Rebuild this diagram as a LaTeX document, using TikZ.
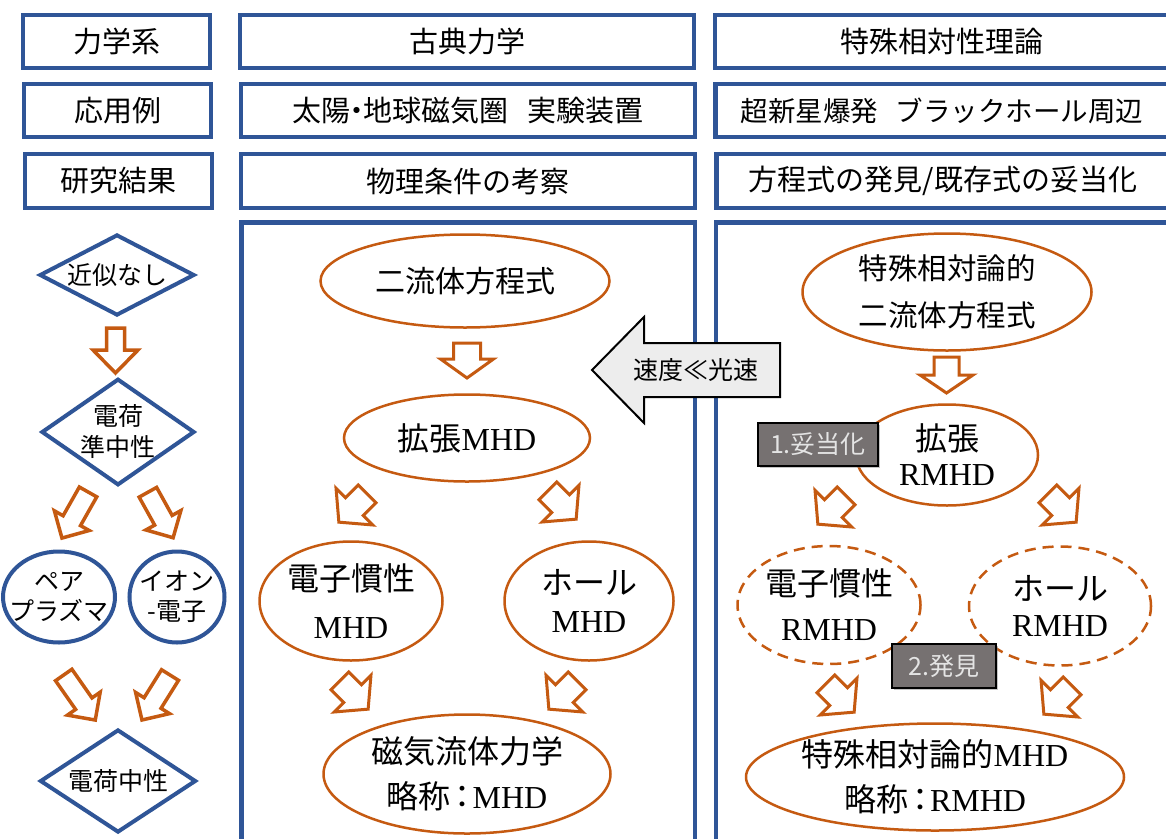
\documentclass[tikz,border=0pt]{standalone}
\usepackage{fontspec}
\setmainfont{Liberation Serif}
\newfontfamily\jp{Noto Sans CJK JP}
\usetikzlibrary{shapes.geometric,shadows}
\definecolor{cblue}{HTML}{2F5597}
\definecolor{corange}{HTML}{C55A11}
\definecolor{cgray}{HTML}{767171}
\definecolor{clabel}{HTML}{E4E4E4}
\definecolor{carrow}{HTML}{EDEDED}
\newcommand\jt[1]{{\jp #1}}
% [style]{x}{y}{rotation}{length}{shaft width}{head width}{head length}
\newcommand\blkarrow[8][blk]{\draw[#1,shift={(#2,#3)},rotate=#4]
  ({-(#5)/2},{-(#6)/2}) -- ({(#5)/2-(#8)},{-(#6)/2}) -- ({(#5)/2-(#8)},{-(#7)/2})
  -- ({(#5)/2},0) -- ({(#5)/2-(#8)},{(#7)/2}) -- ({(#5)/2-(#8)},{(#6)/2})
  -- ({-(#5)/2},{(#6)/2}) -- cycle;}
\tikzset{
  hbox/.style={draw=cblue, line width=4.5pt, inner sep=0pt, minimum height=53pt,
    font=\jp\fontsize{29}{34}\selectfont},
  frame/.style={draw=cblue, line width=4.5pt},
  dia/.style={diamond, draw=cblue, line width=4pt, inner sep=0pt, align=center,
    font=\jp\fontsize{25}{31}\selectfont},
  lell/.style={ellipse, draw=cblue, line width=4pt, inner sep=-40pt, align=center,
    font=\jp\fontsize{25}{30}\selectfont},
  oell/.style={ellipse, draw=corange, line width=2.5pt, inner sep=-40pt, align=center},
  dell/.style={oell, dash pattern=on 11pt off 7pt},
  blk/.style={draw=corange, line width=3pt, fill=white},
  blkl/.style={draw=corange, line width=3.5pt, fill=white},
  big/.style={draw=black, line width=2pt, fill=carrow},
  tag/.style={draw=black, line width=1.5pt, fill=cgray, text=clabel, inner sep=0pt,
    font=\jp\fontsize{25}{28}\selectfont,
    drop shadow={opacity=0.45, shadow xshift=2pt, shadow yshift=-2pt}},
}
\begin{document}
\begin{tikzpicture}[x=1pt,y=-1pt]
\useasboundingbox (0,0) rectangle (1166,838);
\clip (0,0) rectangle (1166,838);
\fill[white] (0,0) rectangle (1166,838);

% lower frames
\draw[frame] (241.5,222.5) rectangle (695,900);
\draw[frame] (716,222.5) rectangle (1190,900);

% header row
\node[hbox, minimum width=187pt] (h1) at (116.5,41.5) {力学系};
\node[hbox, minimum width=187pt] (h2) at (117.5,110.5) {応用例};
\node[hbox, minimum width=187pt, minimum height=54pt] (h3) at (118.5,181) {研究結果};
\node[hbox, minimum width=454pt] (m1) at (467,41.5) {古典力学};
\node[hbox, minimum width=454pt] (m2) at (468,110.5) {\fontsize{29}{34}\selectfont 太陽\kern-8pt・\kern-8pt地球磁気圏\hspace{20pt}実験装置};
\node[hbox, minimum width=454pt, minimum height=54pt] (m3) at (468,181) {物理条件の考察};
\node[hbox, minimum width=453pt] (r1) at (941.5,41.5) {特殊相対性理論};
\node[hbox, minimum width=453pt] (r2) at (942,110.5) {\fontsize{27.5}{34}\selectfont 超新星爆発\hspace{18pt}ブラックホール周辺};
\node[hbox, minimum width=453pt, minimum height=54pt] (r3) at (943,181) {方程式の発見/既存式の妥当化};

% left column
\node[dia, aspect=1.87, minimum width=155pt, minimum height=81pt] (d1) at (117,275) {近似なし};
\node[dia, aspect=1.43, minimum width=153pt, minimum height=106pt] (d2) at (118,432) {電荷\\準中性};
\node[lell, minimum width=112pt, minimum height=91pt] (e1) at (59,597) {ペア\\プラズマ};
\node[lell, minimum width=95pt, minimum height=91pt] (e2) at (177,597) {イオン\\-電子};
\node[dia, aspect=1.5, minimum width=156pt, minimum height=103pt] (d3) at (118,781) {電荷中性};

\blkarrow[blkl]{115.5}{350.5}{-90}{45}{18}{45}{23}
\blkarrow[blkl]{75}{515}{-119.5}{53}{20}{40}{20}
\blkarrow[blkl]{160.5}{515}{-61}{52}{20}{40}{20}
\blkarrow[blkl]{79.5}{697.5}{-55}{55}{20}{40}{20}
\blkarrow[blkl]{156}{697.5}{-122}{53}{20}{40}{20}

% middle column
\node[oell, minimum width=289pt, minimum height=93pt, font=\jp\fontsize{30}{36}\selectfont] (o1) at (465,281) {二流体方程式};
\node[oell, minimum width=246pt, minimum height=87pt, font=\fontsize{32}{40}\selectfont] (o2) at (467,438) {\jt{拡張}MHD};
\node[oell, minimum width=183pt, minimum height=119pt, font=\fontsize{32}{48}\selectfont] (o3) at (351,601) {\jt{電子慣性}\\MHD};
\node[oell, minimum width=169pt, minimum height=119pt, font=\fontsize{32}{38}\selectfont] (o4) at (589,601) {\jt{ホール}\\MHD};
\node[oell, minimum width=287pt, minimum height=119pt, font=\fontsize{32}{45}\selectfont] (o5) at (467,774) {\jt{磁気流体力学}\\\jt{略称\kern-4pt：\kern-6pt}MHD};

\blkarrow{467}{360.5}{-90}{35}{27}{53}{19}
\blkarrow{353}{508}{-135}{40}{25}{52}{22}
\blkarrow{562}{505}{-45}{40}{25}{52}{22}
\blkarrow{354}{695}{-45}{40}{25}{52}{22}
\blkarrow{563}{695}{-135}{40}{25}{52}{22}

% right column
\node[oell, minimum width=289pt, minimum height=117pt, font=\jp\fontsize{29.5}{47}\selectfont] (p1) at (947,292) {特殊相対論的\\二流体方程式};
\node[oell, minimum width=182pt, minimum height=101pt, font=\fontsize{32}{35}\selectfont] (p2) at (947,455) {\jt{拡張}\\RMHD};
\node[dell, minimum width=183pt, minimum height=118pt, font=\fontsize{32}{45}\selectfont] (p3) at (829,605) {\jt{電子慣性}\\RMHD};
\node[dell, minimum width=182pt, minimum height=119pt, font=\fontsize{32}{36}\selectfont] (p4) at (1060,606) {\jt{ホール}\\RMHD};
\node[oell, minimum width=378pt, minimum height=107pt, font=\fontsize{32}{45}\selectfont] (p5) at (935,777) {\jt{特殊相対論的}MHD\\\jt{略称\kern-4pt：\kern-6pt}RMHD};

\blkarrow{946.5}{375}{-90}{36}{25}{53}{18}
\blkarrow{832}{510}{-135}{40}{25}{52}{22}
\blkarrow{1062}{508}{-45}{40}{25}{52}{22}
\blkarrow{840}{698}{-45}{40}{25}{52}{22}
\blkarrow{1058}{700}{-135}{40}{25}{52}{22}

% big arrow
\blkarrow[big]{686}{370}{180}{188}{54}{106}{52}
\node[font=\jp\fontsize{25}{30}\selectfont] (spd) at (696,370) {速度≪光速};

% tags
\node[tag, minimum width=120pt, minimum height=43pt] (t1) at (818,444.5) {1.妥当化};
\node[tag, minimum width=104pt, minimum height=44pt] (t2) at (944,666) {2.発見};
\end{tikzpicture}
\end{document}
